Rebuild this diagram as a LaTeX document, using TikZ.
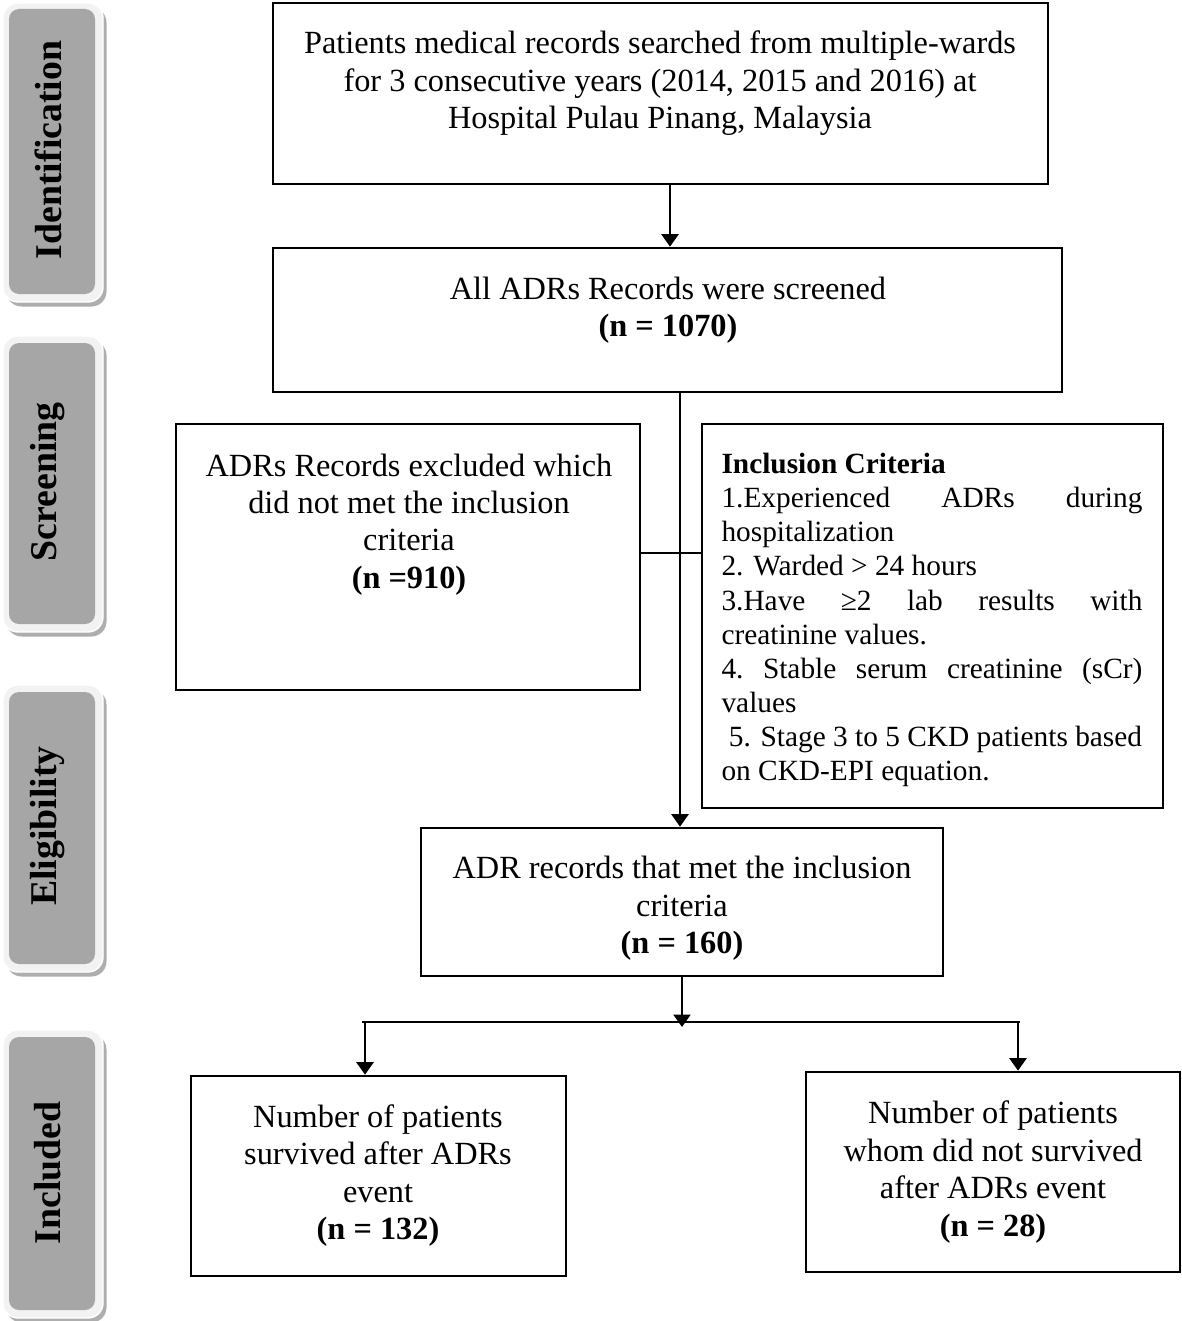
\documentclass[tikz,border=0pt]{standalone}
\usepackage{fontspec}
\setmainfont{Liberation Serif}
\usetikzlibrary{arrows.meta,fit,shadows}
\definecolor{sidegray}{RGB}{166,166,166}
\definecolor{sidefill}{RGB}{242,242,242}
\begin{document}
\begin{tikzpicture}%
	[x=0.02cm, y=-0.02cm,
	box/.style={draw=black, line width=1.5pt, inner sep=0pt},
	txt/.style={align=center, inner sep=0pt, font=\fontsize{18.4}{21.3}\selectfont},
	link/.style={line width=1.4pt},
	arrow/.style={link, -{Triangle[width=0.34cm, length=0.25cm]}},
	sideout/.style={fill=sidefill, draw=white, line width=0.8pt, rounded corners=0.3cm, inner sep=0pt,
		drop shadow={shadow xshift=0.07cm, shadow yshift=-0.09cm, fill=black!45, opacity=0.7}},
	sidein/.style={fill=sidegray, rounded corners=0.2cm, inner sep=0pt},
	sidetext/.style={rotate=90, inner sep=0pt, font=\fontsize{21.5}{24}\selectfont\bfseries}]
%
\useasboundingbox (0,0) rectangle (1181,1321);
%%
%% Stage labels on the left
%%
\node[sideout, fit={(3,3) (103,302)}] (idout) {};
\node[sidein, fit={(9,9) (95,294)}] (idin) {};
\node[sidetext] (idlab) at (48,150) {Identification};
%
\node[sideout, fit={(3,336) (103,632)}] (scout) {};
\node[sidein, fit={(9,343) (95,624)}] (scin) {};
\node[sidetext] (sclab) at (48,482) {Screening};
%
\node[sideout, fit={(3,685) (103,972)}] (elout) {};
\node[sidein, fit={(9,692) (95,964)}] (elin) {};
\node[sidetext] (ellab) at (48,826) {Eligibility};
%
\node[sideout, fit={(3,1030) (103,1318)}] (inout) {};
\node[sidein, fit={(9,1037) (95,1310)}] (inin) {};
\node[sidetext] (inlab) at (48,1173) {Included};
%%
%% Boxes
%%
\node[box, fit={(273,3) (1048,184)}] (b1) {};
\node[box, fit={(273,248) (1062,392)}] (b2) {};
\node[box, fit={(176,424) (640,690)}] (b3) {};
\node[box, fit={(702,424) (1163,808)}] (b4) {};
\node[box, fit={(421,828) (943,976)}] (b5) {};
\node[box, fit={(191,1076) (566,1276)}] (b6) {};
\node[box, fit={(806,1072) (1180,1272)}] (b7) {};
%%
%% Texts
%%
\node[txt] (t1) at (660,83.5) {Patients medical records searched from multiple-wards\\
	for 3 consecutive years (2014, 2015 and 2016) at\\
	Hospital Pulau Pinang, Malaysia};
\node[txt] (t2) at (668,310.5) {All ADRs Records were screened\\ \textbf{(n = 1070)}};
\node[txt] (t3) at (409,524.5) {ADRs Records excluded which\\
	did not met the inclusion\\ criteria\\ \textbf{(n =910)}};
\node[txt, align=flush left, text width=8.42cm, font=\fontsize{16.7}{19.4}\selectfont] (t4) at (932,620)
	{\textbf{Inclusion Criteria}\\
	1.Experienced\hfill ADRs\hfill during\\
	hospitalization\\
	2. Warded > 24 hours\\
	3.Have\hfill ≥2\hfill lab\hfill results\hfill with\\
	creatinine values.\\
	4.\hfill Stable\hfill serum\hfill creatinine\hfill (sCr)\\
	values\\
	\hspace*{0.25em}5. Stage 3 to 5 CKD patients based\\
	on CKD-EPI equation.};
\node[txt] (t5) at (682,908.5) {ADR records that met the inclusion\\ criteria\\ \textbf{(n = 160)}};
\node[txt] (t6) at (378,1175.5) {Number of patients\\ survived after ADRs\\ event\\ \textbf{(n = 132)}};
\node[txt] (t7) at (993,1172) {Number of patients\\ whom did not survived\\ after ADRs event\\ \textbf{(n = 28)}};
%%
%% Connectors
%%
\coordinate (s1) at (670,0);
\coordinate (s2) at (680,0);
\coordinate (s3) at (682,1022);
\coordinate (cl) at (362,1022);
\coordinate (cr) at (1020,1022);
\coordinate (al) at (365,1022);
\coordinate (ar) at (1018,1022);
%
\draw[arrow] (b1.south -| s1) -- (b2.north -| s1);
\draw[arrow] (b2.south -| s2) -- (b5.north -| s2);
\draw[link] (b3.east |- 0,553) -- (b4.west |- 0,553);
\draw[arrow] (b5.south -| s3) -- ([yshift=-0.1cm]s3);
\draw[link] (cl) -- (cr);
\draw[arrow] (al) -- (al |- b6.north);
\draw[arrow] (ar) -- (ar |- b7.north);
%%
\end{tikzpicture}
\end{document}
